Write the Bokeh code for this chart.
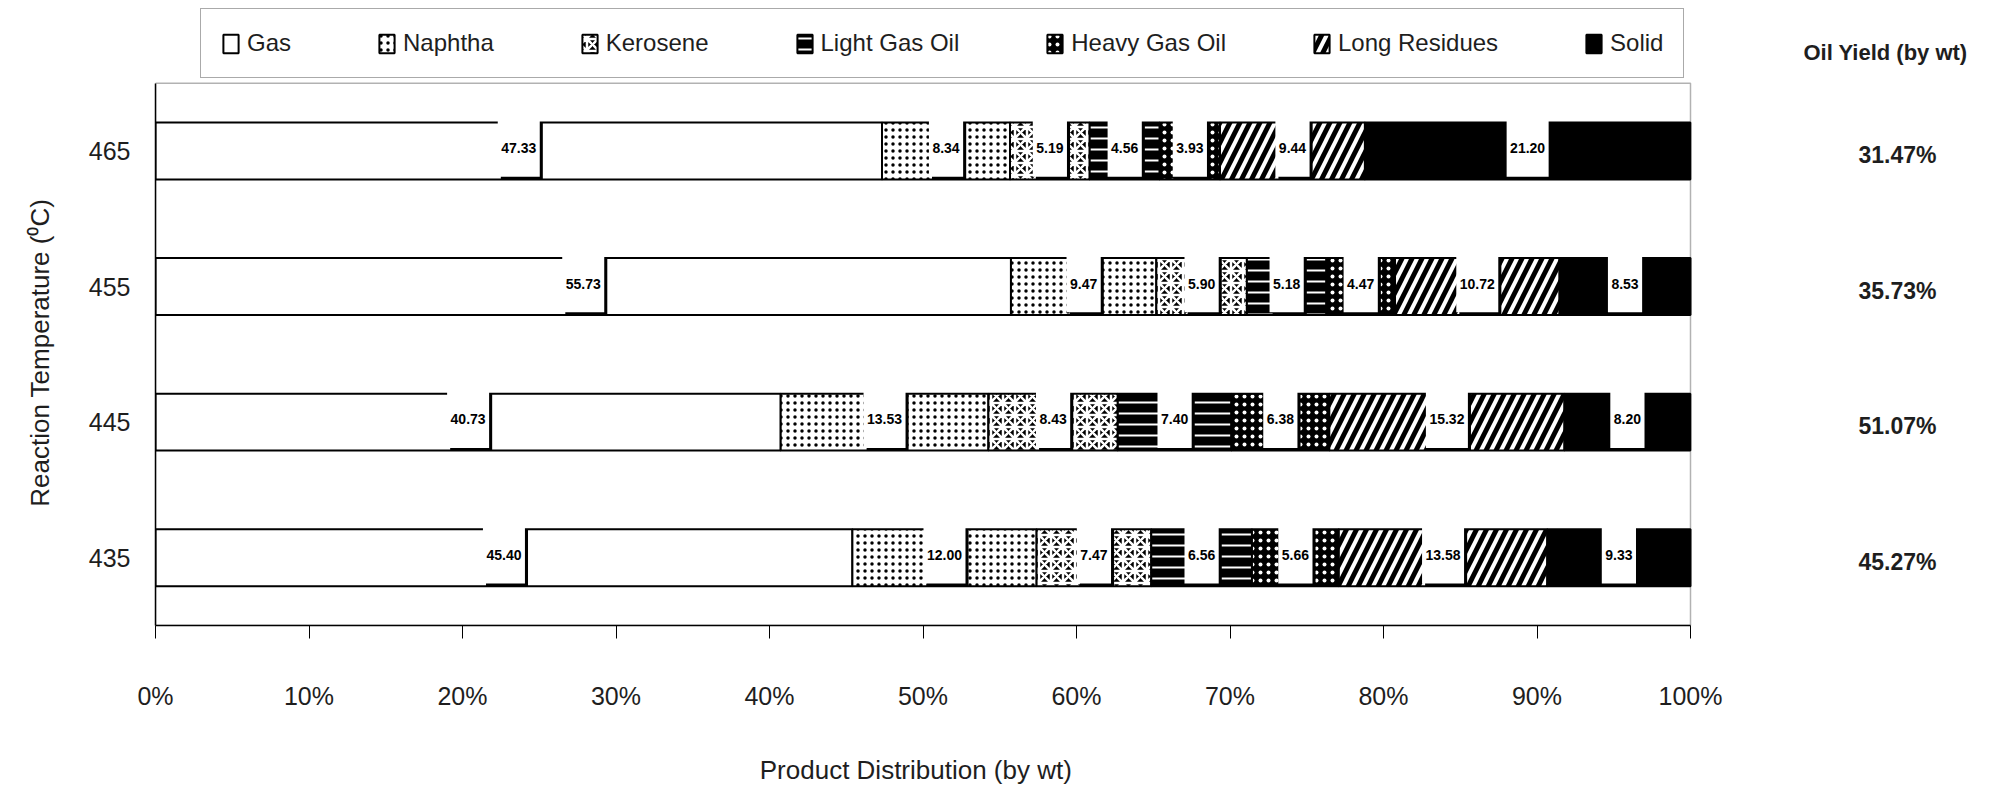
import numpy as np
from bokeh.plotting import figure
from bokeh.models import (ColumnDataSource, Range1d, FixedTicker, Legend, LegendItem,
                          BoxAnnotation)
from bokeh.core.properties import value
from bokeh.embed import file_html
from bokeh.resources import INLINE

# ---------------- data ----------------
temperatures = ["435", "445", "455", "465"]
products = ["Gas", "Naphtha", "Kerosene", "Light Gas Oil", "Heavy Gas Oil",
            "Long Residues", "Solid"]
gas = [45.40, 40.73, 55.73, 47.33]
naphtha = [12.00, 13.53, 9.47, 8.34]
kerosene = [7.47, 8.43, 5.90, 5.19]
light_gas_oil = [6.56, 7.40, 5.18, 4.56]
heavy_gas_oil = [5.66, 6.38, 4.47, 3.93]
long_residues = [13.58, 15.32, 10.72, 9.44]
solid = [9.33, 8.20, 8.53, 21.20]
oil_yield = ["45.27%", "51.07%", "35.73%", "31.47%"]
oil_yield_title = "Oil Yield (by wt)"
x_title = "Product Distribution (by wt)"
y_title = "Reaction Temperature (\u2070C)"
x_ticks = [0, 10, 20, 30, 40, 50, 60, 70, 80, 90, 100]
x_tick_labels = ["0%", "10%", "20%", "30%", "40%", "50%", "60%", "70%", "80%", "90%", "100%"]

series = [gas, naphtha, kerosene, light_gas_oil, heavy_gas_oil, long_residues, solid]

# ---------------- styles / layout ----------------
FONT = "Liberation Sans"
TXT = "#1e1e1e"
NBSP = "\u00a0"
styles = [
    dict(fill_color="white", hatch_pattern=None, hatch_color="white", hatch_scale=8, hatch_weight=1),
    dict(fill_color="white", hatch_pattern="dot", hatch_color="black", hatch_scale=7, hatch_weight=1.6),
    dict(fill_color="black", hatch_pattern="criss_cross", hatch_color="white", hatch_scale=12, hatch_weight=2.5),
    dict(fill_color="black", hatch_pattern="horizontal_line", hatch_color="white", hatch_scale=11, hatch_weight=2),
    dict(fill_color="black", hatch_pattern="dot", hatch_color="white", hatch_scale=8, hatch_weight=1.5),
    dict(fill_color="black", hatch_pattern="right_diagonal_line", hatch_color="white", hatch_scale=20, hatch_weight=4),
    dict(fill_color="black", hatch_pattern=None, hatch_color="white", hatch_scale=8, hatch_weight=1),
]
BAR_H = 0.42
W, H = 1979, 787
LEFT = 155            # left edge of the plotting box
BOX_W = 1535          # pixel width of 0..100 %
BOX_TOP = 83          # pixel top of the plotting box
BOTTOM = 160          # space below the box
PX_PER_UNIT = (H - BOX_TOP - BOTTOM) / 4.0
x_lo, x_hi = x_ticks[0], x_ticks[-1]
y_lo, y_hi = -0.5, len(temperatures) - 0.5

ypos = np.arange(len(temperatures), dtype=float)

p = figure(width=W, height=H,
           x_range=Range1d(x_lo, x_hi * (W - LEFT) / BOX_W),
           y_range=Range1d(y_lo, y_hi + BOX_TOP / PX_PER_UNIT),
           output_backend="svg", toolbar_location=None,
           min_border_left=LEFT, min_border_right=0, min_border_top=0,
           min_border_bottom=BOTTOM)
p.background_fill_color = "white"
p.border_fill_color = "white"
p.outline_line_color = None
p.xgrid.visible = False
p.ygrid.visible = False

# plotting box outline
p.add_layout(BoxAnnotation(left=x_lo, right=x_hi, bottom=y_lo, top=y_hi,
                           fill_alpha=0, line_color="black", line_width=1.5))

# ---------------- bars ----------------
vals = np.array(series)              # shape (7, 4)
rights = np.cumsum(vals, axis=0)
lefts = rights - vals
renderers = []
for i, name in enumerate(products):
    src = ColumnDataSource(dict(y=ypos, left=lefts[i], right=rights[i]))
    st = styles[i]
    kw = dict(fill_color=st["fill_color"], line_color="black", line_width=2)
    if st["hatch_pattern"]:
        kw.update(hatch_pattern=st["hatch_pattern"], hatch_color=st["hatch_color"],
                  hatch_scale=st["hatch_scale"], hatch_weight=st["hatch_weight"])
    r = p.hbar(y="y", left="left", right="right", height=BAR_H, source=src, **kw)
    renderers.append(r)

# ---------------- value labels ----------------
centers = (lefts + rights) / 2.0
lab_x, lab_y, lab_t, lab_w = [], [], [], []
for i in range(len(products)):
    for j in range(len(temperatures)):
        t = "%.2f" % vals[i, j]
        lab_x.append(centers[i, j])
        lab_y.append(ypos[j])
        lab_t.append(t)
        lab_w.append(len(t) * 7.8 + 3)
lab_x = np.array(lab_x)
lab_y = np.array(lab_y)
lsrc = ColumnDataSource(dict(x=lab_x, y=lab_y + 0.02, t=lab_t, w=lab_w,
                             xs=lab_x + 0.2, ys=lab_y))
p.rect(x="xs", y="ys", width="w", width_units="screen", height=BAR_H, source=lsrc,
       fill_color="black", line_color=None)
p.rect(x="x", y="y", width="w", width_units="screen", height=BAR_H, source=lsrc,
       fill_color="white", line_color=None)
p.text(x="x", y="y", text="t", source=lsrc, text_align="center", text_baseline="middle",
       text_font=value(FONT), text_font_size="14px", text_font_style="bold", text_color="black")

# ---------------- oil yield column ----------------
osrc = ColumnDataSource(dict(x=[x_hi] * len(oil_yield), y=ypos, t=oil_yield))
p.text(x="x", y="y", text="t", source=osrc, x_offset=207, y_offset=4, text_align="center",
       text_baseline="middle", text_font=value(FONT), text_font_size="23px",
       text_font_style="bold", text_color=TXT)
hsrc = ColumnDataSource(dict(x=[x_hi], y=[y_hi], t=[oil_yield_title]))
p.text(x="x", y="y", text="t", source=hsrc, x_offset=195, y_offset=-31, text_align="center",
       text_baseline="middle", text_font=value(FONT), text_font_size="22px",
       text_font_style="bold", text_color=TXT)

# ---------------- axes ----------------
xa = p.xaxis[0]
xa.bounds = (x_lo, x_hi)
xa.ticker = FixedTicker(ticks=x_ticks)
xa.major_label_overrides = {t: l for t, l in zip(x_ticks, x_tick_labels)}
xa.minor_tick_line_color = None
xa.major_tick_out = 13
xa.major_tick_in = 0
xa.major_tick_line_color = "black"
xa.axis_line_color = "black"
xa.axis_line_width = 1.5
xa.major_label_standoff = 43
xa.major_label_text_font = FONT
xa.major_label_text_font_size = "25px"
xa.major_label_text_color = TXT
# trailing no-break spaces keep the title centred under the 0-100 % box
xa.axis_label = x_title + NBSP * 42
xa.axis_label_standoff = 42
xa.axis_label_text_font = FONT
xa.axis_label_text_font_size = "26px"
xa.axis_label_text_font_style = "normal"
xa.axis_label_text_color = TXT

ya = p.yaxis[0]
ya.bounds = (y_lo, y_hi)
ya.ticker = FixedTicker(ticks=list(ypos))
ya.major_label_overrides = {int(y): t for y, t in zip(ypos, temperatures)}
ya.minor_tick_line_color = None
ya.major_tick_line_color = None
ya.major_tick_out = 0
ya.major_tick_in = 0
ya.axis_line_color = "black"
ya.axis_line_width = 1.5
ya.major_label_standoff = 25
ya.major_label_text_font = FONT
ya.major_label_text_font_size = "25px"
ya.major_label_text_color = TXT
ya.axis_label = y_title + NBSP * 11
ya.axis_label_standoff = 31
ya.axis_label_text_font = FONT
ya.axis_label_text_font_size = "26px"
ya.axis_label_text_font_style = "normal"
ya.axis_label_text_color = TXT

# ---------------- legend ----------------
legend = Legend(items=[LegendItem(label=n, renderers=[r]) for n, r in zip(products, renderers)],
                orientation="horizontal", location=(45, H - BOTTOM - 80),
                glyph_width=19, glyph_height=23, label_standoff=7, spacing=86,
                padding=20, margin=0,
                label_text_font=FONT, label_text_font_size="24px", label_text_color=TXT,
                border_line_color="#555555", border_line_width=1.5,
                background_fill_color="white")
p.add_layout(legend)

open("out.html", "w").write(file_html(p, INLINE))
